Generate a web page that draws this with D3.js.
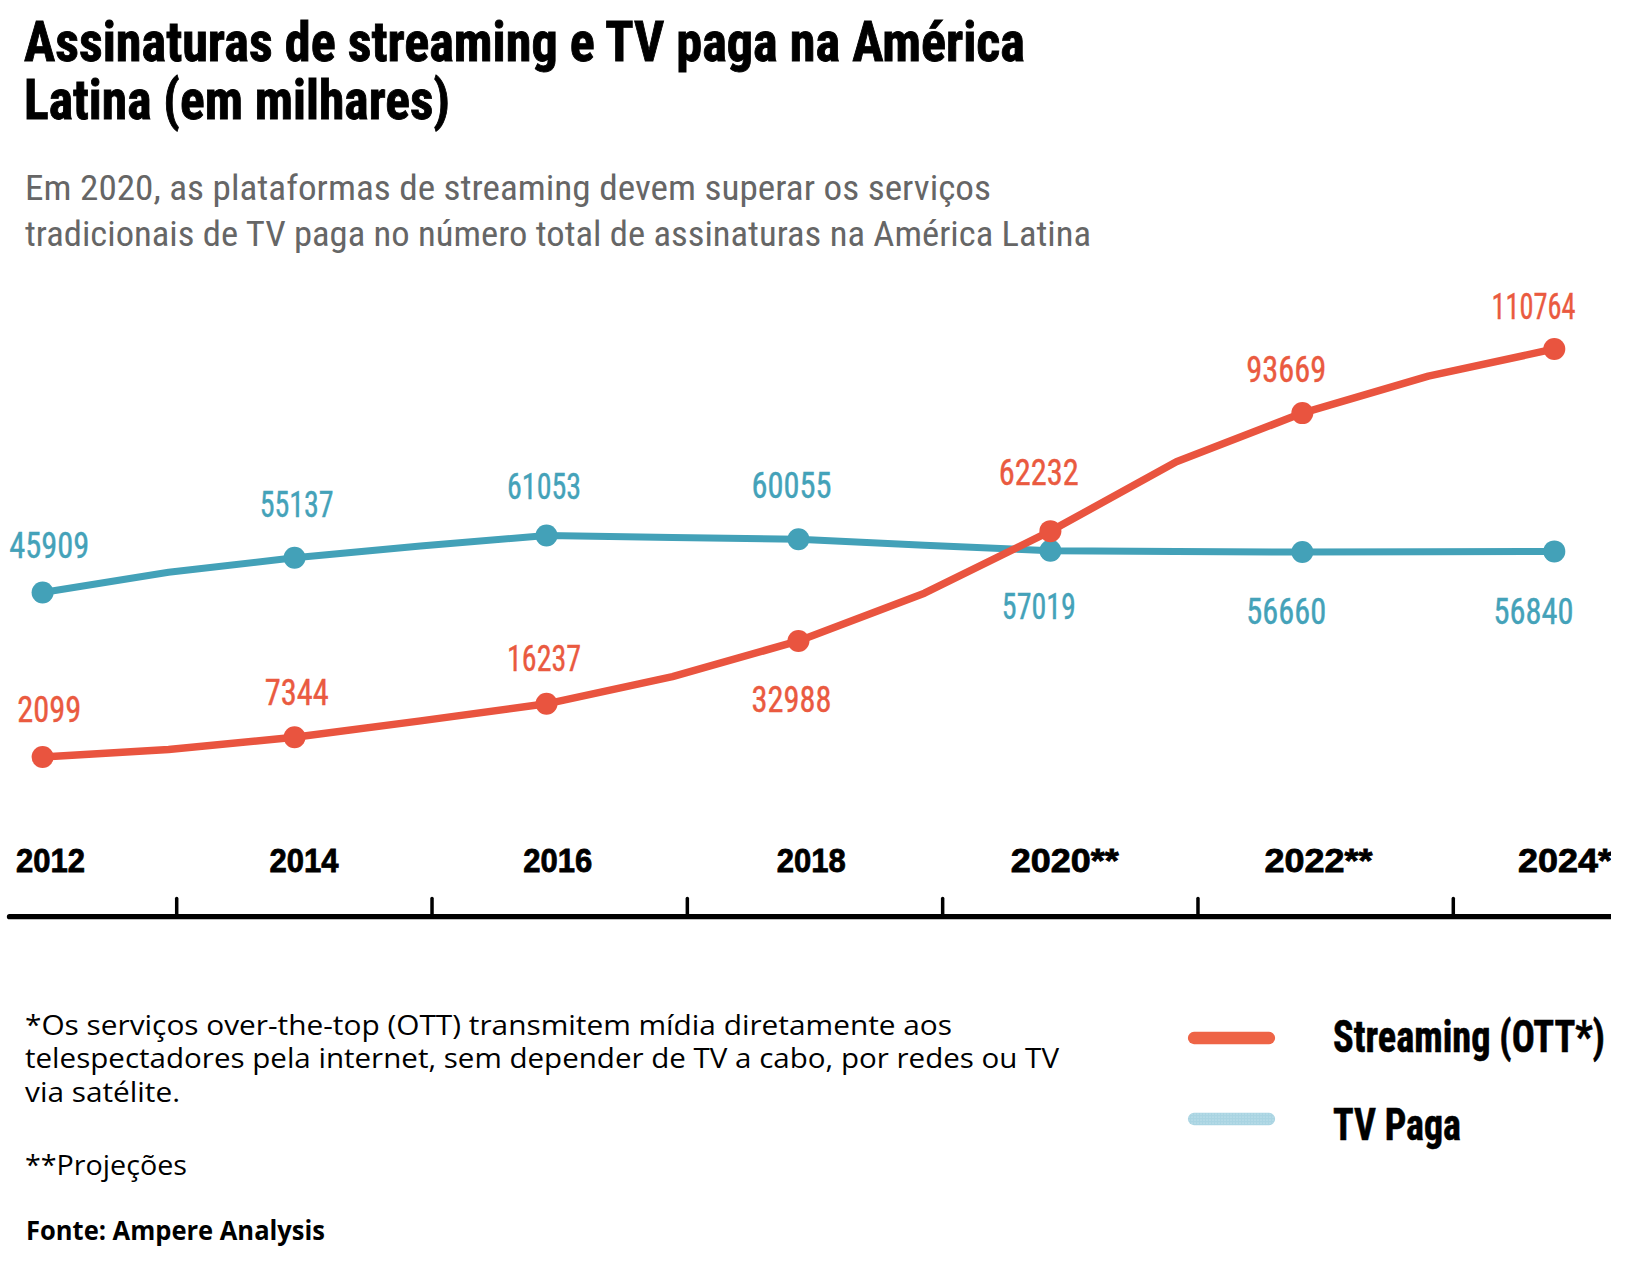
<!DOCTYPE html>
<html>
<head>
<meta charset="utf-8">
<script src="https://cdn.jsdelivr.net/npm/d3@7"></script>
<style>
  html, body { margin: 0; padding: 0; background: #ffffff; }
  svg { display: block; }
</style>
</head>
<body>
<svg id="chart" width="1628" height="1274"></svg>
<script>
// ---------------- DATA ----------------
const years = [2012, 2013, 2014, 2015, 2016, 2017, 2018, 2019, 2020, 2021, 2022, 2023, 2024];
const streaming = [2099, 4100, 7344, 11700, 16237, 23500, 32988, 45700, 62232, 80700, 93669, 103500, 110764];
const tvPaga = [45909, 51300, 55137, 58300, 61053, 60550, 60055, 58500, 57019, 56840, 56660, 56750, 56840];
const labeledYears = [2012, 2014, 2016, 2018, 2020, 2022, 2024];
const axisLabels = ["2012", "2014", "2016", "2018", "2020**", "2022**", "2024**"];
const tickYears = [2013, 2015, 2017, 2019, 2021, 2023];
const seriesNames = ["Streaming (OTT*)", "TV Paga"];
const titleLines = ["Assinaturas de streaming e TV paga na América", "Latina (em milhares)"];
const subtitleLines = [
  "Em 2020, as plataformas de streaming devem superar os serviços",
  "tradicionais de TV paga no número total de assinaturas na América Latina"
];
const noteLines = [
  "*Os serviços over-the-top (OTT) transmitem mídia diretamente aos",
  "telespectadores pela internet, sem depender de TV a cabo, por redes ou TV",
  "via satélite."
];
const projectionNote = "**Projeções";
const sourceNote = "Fonte: Ampere Analysis";

// ---------------- STYLE / LAYOUT ----------------
const RED = "#e9543f";
const RED_TEXT = "#ea5a40";
const RED_LEGEND = "#ee6446";
const BLUE = "#43a1b8";
const BLUE_TEXT = "#44a2b9";
const CONDENSED = "'Liberation Sans Narrow', 'Roboto Condensed', 'DejaVu Sans Condensed', 'Liberation Sans', Arial, sans-serif";
// label vertical offsets (px from point), per labeled year
const streamingLabelDy = [-35, -32, -33, 71, -46, -31, -30];
const tvLabelDy = [-34, -41, -37, -41, 68, 72, 73];

const svg = d3.select("#chart");

const x = d3.scaleLinear().domain([2012, 2024]).range([42.6, 1554.3]);
const y = d3.scaleLinear().domain([0, 120000]).range([764.8, 764.8 - 120000 * 0.0037546]);
const xLabel = d3.scaleLinear().domain([2012, 2024]).range([49.3, 1533.6]);
const xYear = d3.scaleLinear().domain([2012, 2024]).range([50.5, 1572]);
const xTick = d3.scaleLinear().domain([2013, 2023]).range([176.7, 1453.3]);

function widthOf(str, wDigit, wOne, wStar) {
  let w = 0;
  for (const c of str) w += c === "1" ? wOne : (c === "*" ? wStar : wDigit);
  return w;
}

// ---------------- TITLE ----------------
const titleW = [1001, 426];
const titleY = [61, 118.5];
svg.selectAll("text.title").data(titleLines).join("text")
  .attr("class", "title")
  .attr("x", 24).attr("y", (d, i) => titleY[i])
  .attr("font-family", CONDENSED).attr("font-weight", 700).attr("font-size", 56)
  .attr("fill", "#000").attr("stroke", "#000").attr("stroke-width", 0.9)
  .attr("textLength", (d, i) => titleW[i]).attr("lengthAdjust", "spacingAndGlyphs")
  .text(d => d);

const subW = [966, 1066];
const subY = [200, 246];
svg.selectAll("text.subtitle").data(subtitleLines).join("text")
  .attr("class", "subtitle")
  .attr("x", 25).attr("y", (d, i) => subY[i])
  .attr("font-family", CONDENSED).attr("font-weight", 400).attr("font-size", 35)
  .attr("fill", "#666666")
  .attr("textLength", (d, i) => subW[i]).attr("lengthAdjust", "spacingAndGlyphs")
  .text(d => d);

// ---------------- CHART ----------------
svg.append("defs").append("clipPath").attr("id", "clipR")
  .append("rect").attr("x", 0).attr("y", 0).attr("width", 1611).attr("height", 1274);

const line = (vals) => d3.line().x((d, i) => x(years[i])).y(d => y(d))(vals);

const chart = svg.append("g");

// TV Paga
chart.append("path").attr("d", line(tvPaga))
  .attr("fill", "none").attr("stroke", BLUE).attr("stroke-width", 7)
  .attr("stroke-linejoin", "round").attr("stroke-linecap", "round");
chart.selectAll("circle.tv").data(labeledYears).join("circle")
  .attr("class", "tv")
  .attr("cx", d => x(d)).attr("cy", d => y(tvPaga[years.indexOf(d)]))
  .attr("r", 11).attr("fill", BLUE);

// Streaming
chart.append("path").attr("d", line(streaming))
  .attr("fill", "none").attr("stroke", RED).attr("stroke-width", 7.5)
  .attr("stroke-linejoin", "round").attr("stroke-linecap", "round");
chart.selectAll("circle.st").data(labeledYears).join("circle")
  .attr("class", "st")
  .attr("cx", d => x(d)).attr("cy", d => y(streaming[years.indexOf(d)]))
  .attr("r", 11).attr("fill", RED);

// value labels
function addLabels(vals, dys, color, cls) {
  chart.selectAll("text." + cls).data(labeledYears).join("text")
    .attr("class", cls)
    .attr("x", d => xLabel(d))
    .attr("y", (d, i) => y(vals[years.indexOf(d)]) + dys[i])
    .attr("text-anchor", "middle")
    .attr("font-family", CONDENSED).attr("font-weight", 400).attr("font-size", 36)
    .attr("fill", color).attr("stroke", color).attr("stroke-width", 0.4)
    .attr("textLength", d => widthOf(String(vals[years.indexOf(d)]), 16, 10, 12))
    .attr("lengthAdjust", "spacingAndGlyphs")
    .text(d => String(vals[years.indexOf(d)]));
}
addLabels(tvPaga, tvLabelDy, BLUE_TEXT, "lt");
addLabels(streaming, streamingLabelDy, RED_TEXT, "ls");

// ---------------- AXIS ----------------
const axisG = svg.append("g").attr("clip-path", "url(#clipR)");
axisG.append("line")
  .attr("x1", 9.5).attr("x2", 1640).attr("y1", 916.7).attr("y2", 916.7)
  .attr("stroke", "#000").attr("stroke-width", 5.3).attr("stroke-linecap", "round");
axisG.selectAll("line.tick").data(tickYears).join("line")
  .attr("class", "tick")
  .attr("x1", d => xTick(d)).attr("x2", d => xTick(d))
  .attr("y1", 898.5).attr("y2", 916)
  .attr("stroke", "#000").attr("stroke-width", 3.5).attr("stroke-linecap", "round");
axisG.selectAll("text.year").data(labeledYears).join("text")
  .attr("class", "year")
  .attr("x", d => xYear(d)).attr("y", 871.7)
  .attr("text-anchor", "middle")
  .attr("font-family", "'Liberation Sans', Arial, sans-serif").attr("font-weight", 700).attr("font-size", 34)
  .attr("fill", "#000").attr("stroke", "#000").attr("stroke-width", 0.8)
  .attr("textLength", (d, i) => widthOf(axisLabels[i], 19.5, 10.5, 15))
  .attr("lengthAdjust", "spacingAndGlyphs")
  .text((d, i) => axisLabels[i]);

// ---------------- LEGEND ----------------
const defs = svg.select("defs");
const pat = defs.append("pattern").attr("id", "dots")
  .attr("patternUnits", "userSpaceOnUse").attr("width", 3).attr("height", 3);
pat.append("rect").attr("width", 3).attr("height", 3).attr("fill", "#a9d4e2");
pat.append("circle").attr("cx", 1).attr("cy", 1).attr("r", 0.6).attr("fill", "#d4ecf3");

const legendColors = [RED_LEGEND, "url(#dots)"];
const legendY = [1038, 1119];
const legendTextY = [1051.7, 1140];
const legendW = [272, 128];
const legend = svg.append("g");
legend.selectAll("line.leg").data(seriesNames).join("line")
  .attr("class", "leg")
  .attr("x1", 1194).attr("x2", 1269)
  .attr("y1", (d, i) => legendY[i]).attr("y2", (d, i) => legendY[i])
  .attr("stroke", (d, i) => legendColors[i]).attr("stroke-width", 12.3).attr("stroke-linecap", "round");
legend.selectAll("text.leg").data(seriesNames).join("text")
  .attr("class", "leg")
  .attr("x", 1333).attr("y", (d, i) => legendTextY[i])
  .attr("font-family", CONDENSED).attr("font-weight", 700).attr("font-size", 45)
  .attr("fill", "#000").attr("stroke", "#000").attr("stroke-width", 0.6)
  .attr("textLength", (d, i) => legendW[i]).attr("lengthAdjust", "spacingAndGlyphs")
  .text(d => d);

// ---------------- NOTES ----------------
const noteY = [1035, 1068.3, 1101.7];
const noteW = [927, 1034, 155];
svg.selectAll("text.note").data(noteLines).join("text")
  .attr("class", "note")
  .attr("x", 25).attr("y", (d, i) => noteY[i])
  .attr("font-family", "'Open Sans', 'Noto Sans', sans-serif").attr("font-size", 27)
  .attr("fill", "#000")
  .attr("textLength", (d, i) => noteW[i]).attr("lengthAdjust", "spacingAndGlyphs")
  .text(d => d);
svg.append("text")
  .attr("x", 25).attr("y", 1175)
  .attr("font-family", "'Open Sans', 'Noto Sans', sans-serif").attr("font-size", 27)
  .attr("fill", "#000")
  .attr("textLength", 162).attr("lengthAdjust", "spacingAndGlyphs")
  .text(projectionNote);
svg.append("text")
  .attr("x", 26).attr("y", 1240)
  .attr("font-family", "'Open Sans', 'Noto Sans', sans-serif").attr("font-weight", 700).attr("font-size", 26)
  .attr("fill", "#000")
  .attr("textLength", 299).attr("lengthAdjust", "spacingAndGlyphs")
  .text(sourceNote);
</script>
</body>
</html>
